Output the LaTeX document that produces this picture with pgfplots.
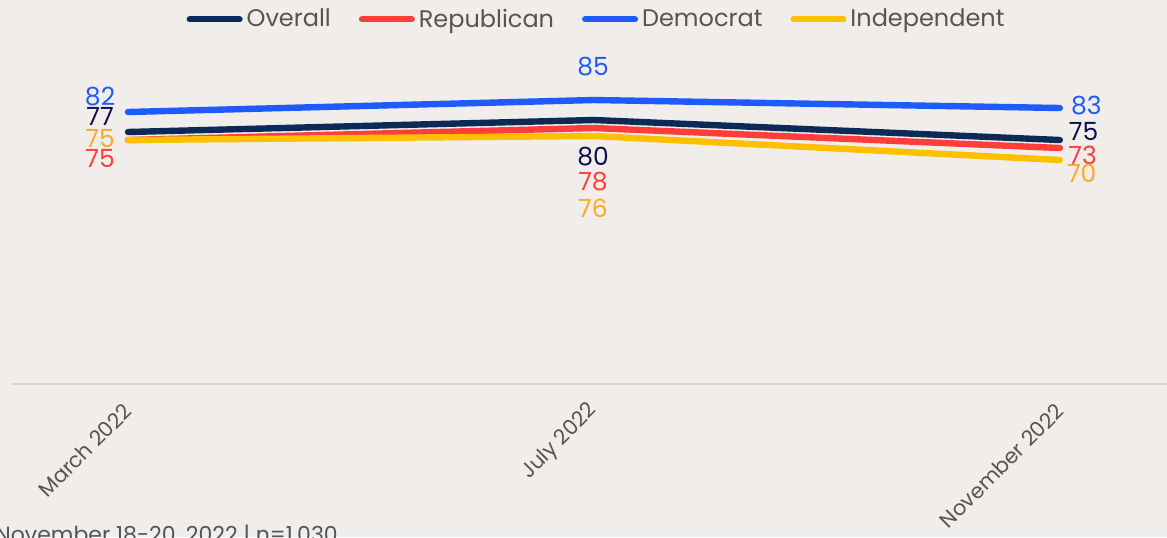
\documentclass[border=0pt]{standalone}
\usepackage{pgfplots}
\pgfplotsset{compat=1.18}
\usepackage{fontspec}
\setmainfont{Poppins}
\definecolor{bg}{HTML}{F0EDEA}
\definecolor{navy}{HTML}{0B2A58}
\definecolor{navylab}{HTML}{0E0E4E}
\definecolor{rrep}{HTML}{FF3D3A}
\definecolor{bdem}{HTML}{1F5BFA}
\definecolor{yind}{HTML}{FFC000}
\definecolor{ylab}{HTML}{FFAA25}
\definecolor{txtgray}{HTML}{555555}
\definecolor{axgray}{HTML}{D8D5D2}
\begin{document}
\begin{tikzpicture}
\useasboundingbox (-6pt,-76.5pt) rectangle (577.5pt,192pt);
\fill[bg] (-6pt,-76.5pt) rectangle (577.5pt,192pt);
\begin{axis}[
  scale only axis, width=577.5pt, height=172pt,
  xmin=-0.249, xmax=2.23, ymin=14, ymax=100,
  axis x line=bottom, axis y line=none,
  x axis line style={draw=axgray, line width=1pt, -},
  xtick={0,1,2}, xticklabels={March 2022, July 2022, November 2022},
  major tick length=0pt, ytick=\empty,
  xticklabel style={rotate=45, anchor=east, font=\fontsize{10.5}{12}\selectfont, text=txtgray, yshift=-8.3pt, xshift=-4.8pt},
  legend columns=4,
  legend style={at={(0.507,1.06)}, anchor=center, draw=none, fill=none,
    font=\fontsize{12}{14}\selectfont, text=txtgray,
    /tikz/every even column/.append style={column sep=12pt}},
  legend image code/.code={\draw[#1, line width=3pt, line cap=round] (0pt,0pt) -- (25pt,0pt);},
  clip=false,
]
\addplot[navy, line width=3.2pt, line cap=round, line join=round] coordinates {(0,77) (1,80) (2,75)};
\addlegendentry{Overall}
\addplot[rrep, line width=3.2pt, line cap=round, line join=round] coordinates {(0,75) (1,78) (2,73)};
\addlegendentry{Republican}
\addplot[bdem, line width=3.2pt, line cap=round, line join=round] coordinates {(0,82) (1,85) (2,83)};
\addlegendentry{Democrat}
\addplot[yind, line width=3.2pt, line cap=round, line join=round] coordinates {(0,75) (1,76) (2,70)};
\addlegendentry{Independent}
\begin{scope}[every node/.style={font=\fontsize{12.5}{15}\selectfont, inner sep=0pt}]
\node[text=bdem] at (axis cs:-0.060,85.75) {82};
\node[text=navylab] at (axis cs:-0.060,81) {77};
\node[text=ylab] at (axis cs:-0.060,75.5) {75};
\node[text=rrep] at (axis cs:-0.060,70.5) {75};
\node[text=bdem] at (axis cs:0.998,93.4) {85};
\node[text=navylab] at (axis cs:0.998,70.75) {80};
\node[text=rrep] at (axis cs:0.998,64.5) {78};
\node[text=ylab] at (axis cs:0.998,58) {76};
\node[text=bdem] at (axis cs:2.057,83.5) {83};
\node[text=navylab] at (axis cs:2.051,77.2) {75};
\node[text=rrep] at (axis cs:2.049,71.25) {73};
\node[text=ylab] at (axis cs:2.047,66.75) {70};
\end{scope}
\end{axis}
\node[anchor=base west, inner sep=0pt, text=txtgray, font=\fontsize{11}{13}\selectfont] at (-8.5pt,-79pt) {November 18-20, 2022 | n=1,030};
\end{tikzpicture}
\end{document}
